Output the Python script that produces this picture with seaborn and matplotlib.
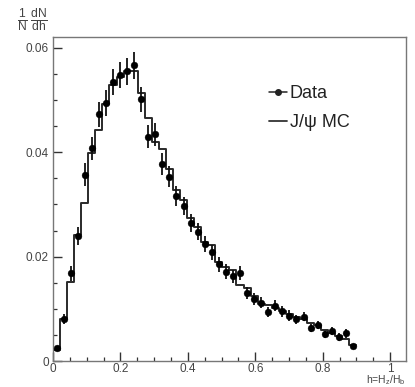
import numpy as np
import pandas as pd
import matplotlib
matplotlib.use("Agg")
import matplotlib.pyplot as plt
import seaborn as sns
from matplotlib.ticker import MultipleLocator, FixedLocator, FixedFormatter
from matplotlib.lines import Line2D

# ---- data ----
h_min, h_max, n_bins = 0.0, 0.9, 43

data_vals = [0.0024, 0.0080, 0.0168, 0.0240, 0.0357, 0.0408, 0.0473, 0.0494, 0.0534, 0.0548,
             0.0555, 0.0567, 0.0502, 0.0430, 0.0435, 0.0377, 0.0353, 0.0316, 0.0297, 0.0265,
             0.0248, 0.0224, 0.0208, 0.0185, 0.0171, 0.0162, 0.0169, 0.0130, 0.0119, 0.0112,
             0.0094, 0.0106, 0.0095, 0.0087, 0.0080, 0.0085, 0.0063, 0.0069, 0.0051, 0.0058,
             0.0046, 0.0053, 0.0028]
data_errs = [0.0005, 0.0010, 0.0014, 0.0017, 0.0022, 0.0022, 0.0024, 0.0025, 0.0025, 0.0025,
             0.0026, 0.0026, 0.0024, 0.0022, 0.0022, 0.0021, 0.0020, 0.0019, 0.0018, 0.0017,
             0.0016, 0.0016, 0.0015, 0.0014, 0.0014, 0.0013, 0.0014, 0.0012, 0.0011, 0.0011,
             0.0010, 0.0010, 0.0010, 0.0010, 0.0009, 0.0009, 0.0008, 0.0008, 0.0007, 0.0008,
             0.0007, 0.0008, 0.0005]
mc_vals = [0.0021, 0.0080, 0.0152, 0.0242, 0.0302, 0.0398, 0.0443, 0.0492, 0.0529, 0.0545,
           0.0555, 0.0555, 0.0513, 0.0465, 0.0420, 0.0406, 0.0368, 0.0328, 0.0309, 0.0274,
           0.0257, 0.0229, 0.0222, 0.0190, 0.0181, 0.0174, 0.0146, 0.0140, 0.0125, 0.0110,
           0.0107, 0.0102, 0.0095, 0.0090, 0.0084, 0.0080, 0.0073, 0.0069, 0.0059, 0.0054,
           0.0047, 0.0042, 0.0031]

x_ticks = [0, 0.2, 0.4, 0.6, 0.8, 1]
x_ticklabels = ["0", "0.2", "0.4", "0.6", "0.8", "1"]
y_ticks = [0, 0.02, 0.04, 0.06]
y_ticklabels = ["0", "0.02", "0.04", "0.06"]

edges = [float(e) for e in np.linspace(h_min, h_max, n_bins + 1)]
centers = [0.5 * (a + b) for a, b in zip(edges[:-1], edges[1:])]
df = pd.DataFrame({"h": centers, "data": data_vals, "err": data_errs, "mc": mc_vals})

# ---- style ----
sns.set_style("ticks")
plt.rcParams["font.family"] = ["Liberation Sans", "DejaVu Sans"]
plt.rcParams["mathtext.fontset"] = "custom"
plt.rcParams["mathtext.rm"] = "Liberation Sans"
plt.rcParams["mathtext.it"] = "Liberation Sans:italic"
plt.rcParams["mathtext.sf"] = "Liberation Sans"

fig = plt.figure(figsize=(4.15, 3.87), dpi=100)
ax = fig.add_axes([53 / 415, 1 - 361 / 387, (406 - 53) / 415, (361 - 37) / 387])

# MC histogram (step)
sns.histplot(data=df, x="h", weights="mc", bins=edges, element="step", fill=False,
             color="#2a2a2a", linewidth=1.4, ax=ax)

# Data points with error bars
ax.errorbar(df["h"], df["data"], yerr=df["err"], fmt="none", ecolor="#111111",
            elinewidth=1.3, capsize=0, zorder=3)
sns.scatterplot(data=df, x="h", y="data", color="black", s=24, edgecolor="black",
                linewidth=0.3, ax=ax, zorder=4)

ax.set_xlim(0, 1.047)
ax.set_ylim(0, 0.0621)
ax.set_xlabel("")
ax.set_ylabel("")

ax.xaxis.set_major_locator(FixedLocator(x_ticks))
ax.xaxis.set_major_formatter(FixedFormatter(x_ticklabels))
ax.yaxis.set_major_locator(FixedLocator(y_ticks))
ax.yaxis.set_major_formatter(FixedFormatter(y_ticklabels))
ax.xaxis.set_minor_locator(MultipleLocator(0.05))
ax.yaxis.set_minor_locator(MultipleLocator(0.005))

ax.tick_params(axis="both", which="major", direction="in", length=6.5, width=1.0,
               color="#333333", labelsize=8.5, labelcolor="#444444", pad=3)
ax.tick_params(axis="x", which="major", pad=1.5)
ax.tick_params(axis="both", which="minor", direction="in", length=3.2, width=0.9,
               color="#333333")
ax.tick_params(top=False, right=False, which="both")
for sp in ax.spines.values():
    sp.set_visible(True)
    sp.set_color("#777777")
    sp.set_linewidth(1.0)

# Axis titles
fig.text(17 / 415, 1 - 7 / 387, r"$\mathrm{\frac{1}{N}\,\frac{dN}{dh}}$", ha="left",
         va="top", fontsize=12.5, color="#444444")
ax.text(1.0, -0.039, r"h=H$_\mathrm{z}$/H$_\mathrm{b}$", transform=ax.transAxes,
        ha="right", va="top", fontsize=7.5, color="#444444")

# Legend
h_data = Line2D([], [], color="#222222", marker="o", markersize=4, linestyle="-",
                linewidth=1.1)
h_mc = Line2D([], [], color="#333333", linewidth=1.3)
leg = ax.legend([h_data, h_mc], ["Data", "J/\u03c8 MC"], loc="upper left",
                bbox_to_anchor=((269 - 53) / 353, (361 - 85) / 324), frameon=False,
                fontsize=13, handlelength=1.0, handletextpad=0.15, labelspacing=0.68,
                borderpad=0, borderaxespad=0)
for t in leg.get_texts():
    t.set_color("#222222")

fig.savefig("out.png", dpi=100)
